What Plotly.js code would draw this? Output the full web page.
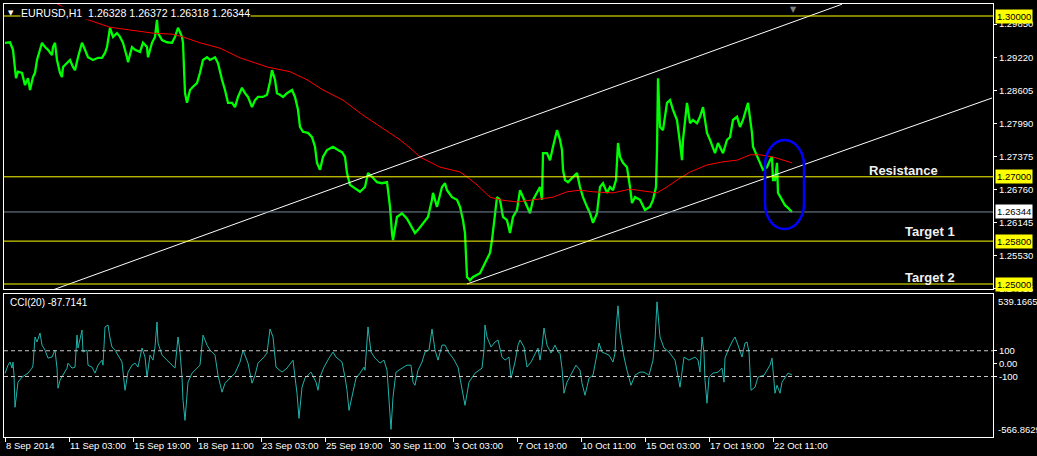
<!DOCTYPE html>
<html>
<head>
<meta charset="utf-8">
<script src="https://cdn.plot.ly/plotly-3.0.1.min.js"></script>
<style>
  html, body { margin: 0; padding: 0; background: #000; }
  #chart { width: 1037px; height: 456px; }
</style>
</head>
<body>
<div id="chart"></div>
<script>
// ---------------- DATA ----------------
const symbolTitle = 'EURUSD,H1\u00a0\u00a01.26328 1.26372 1.26318 1.26344';
const cciTitle = 'CCI(20) -87.7141';

// bar index (H1 bars) and close price
const priceBars = [
  0,5,8,10,11,13,17,20,23,25,
  28,30,32,35,37,40,43,47,48,50,
  52,55,57,58,62,65,68,70,73,77,
  80,83,88,93,97,100,102,105,108,112,
  115,118,122,123,127,130,135,138,142,143,
  147,150,152,153,157,162,167,170,173,177,
  178,179,180,182,185,188,192,195,198,202,
  205,210,213,217,220,223,227,230,233,237,
  240,243,247,250,253,258,262,265,267,270,
  272,275,278,282,287,290,293,295,298,303,
  307,310,312,315,318,322,328,333,337,340,
  342,345,350,355,360,363,367,372,377,382,
  383,385,387,388,392,397,402,407,410,413,
  418,423,427,428,432,437,440,442,447,452,
  455,458,460,461,462,465,468,475,480,485,
  487,490,492,495,498,502,505,508,512,515,
  518,522,525,528,532,535,537,538,542,545,
  548,552,555,557,558,560,563,568,572,575,
  578,582,585,588,592,595,598,602,605,608,
  611,613,615,618,622,625,627,630,635,640,
  645,648,651,652,653,655,658,662,665,668,
  672,675,677,678,682,685,688,692,695,698,
  702,705,710,713,718,722,725,728,732,735,
  738,743,745,747,748,752,755,758,762,765,
  767,768,770,772,773,777,780,783,787
];
const priceClose = [
  1.2950,1.2951,1.2937,1.2905,1.2884,1.2896,1.2894,1.2871,1.2884,1.2862,
  1.2886,1.2894,1.2918,1.2937,1.2950,1.2942,1.2937,1.2927,1.2942,1.2950,
  1.2918,1.2894,1.2886,1.2905,1.2912,1.2918,1.2905,1.2899,1.2923,1.2950,
  1.2937,1.2923,1.2918,1.2922,1.2922,1.2931,1.2942,1.2978,1.2961,1.2968,
  1.2961,1.2950,1.2923,1.2914,1.2942,1.2937,1.2933,1.2950,1.2942,1.2923,
  1.2950,1.2961,1.2993,1.2968,1.2955,1.2951,1.2950,1.2961,1.2978,1.2961,
  1.2950,1.2899,1.2856,1.2838,1.2862,1.2868,1.2875,1.2894,1.2918,1.2923,
  1.2918,1.2923,1.2912,1.2881,1.2862,1.2838,1.2838,1.2830,1.2849,1.2866,
  1.2856,1.2849,1.2830,1.2843,1.2849,1.2849,1.2853,1.2877,1.2899,1.2881,
  1.2856,1.2853,1.2849,1.2856,1.2862,1.2849,1.2825,1.2793,1.2784,1.2782,
  1.2774,1.2756,1.2726,1.2713,1.2737,1.2750,1.2756,1.2750,1.2746,1.2737,
  1.2707,1.2685,1.2679,1.2672,1.2681,1.2707,1.2700,1.2690,1.2688,1.2690,
  1.2675,1.2644,1.2595,1.2582,1.2625,1.2632,1.2622,1.2606,1.2595,1.2601,
  1.2614,1.2625,1.2657,1.2670,1.2644,1.2681,1.2688,1.2675,1.2662,1.2657,
  1.2644,1.2619,1.2595,1.2545,1.2513,1.2507,1.2513,1.2520,1.2539,1.2558,
  1.2582,1.2625,1.2662,1.2657,1.2625,1.2619,1.2595,1.2625,1.2638,1.2675,
  1.2662,1.2644,1.2632,1.2657,1.2670,1.2681,1.2657,1.2744,1.2744,1.2731,
  1.2756,1.2787,1.2769,1.2750,1.2713,1.2694,1.2690,1.2700,1.2707,1.2681,
  1.2662,1.2644,1.2632,1.2614,1.2632,1.2681,1.2688,1.2670,1.2681,1.2675,
  1.2694,1.2763,1.2737,1.2726,1.2718,1.2681,1.2651,1.2662,1.2657,1.2638,
  1.2644,1.2657,1.2681,1.2750,1.2884,1.2793,1.2787,1.2838,1.2843,1.2825,
  1.2806,1.2763,1.2731,1.2769,1.2838,1.2800,1.2806,1.2800,1.2812,1.2830,
  1.2782,1.2769,1.2744,1.2763,1.2744,1.2769,1.2774,1.2806,1.2812,1.2793,
  1.2806,1.2838,1.2812,1.2782,1.2756,1.2737,1.2726,1.2713,1.2718,1.2731,
  1.2737,1.2694,1.2694,1.2726,1.2670,1.2657,1.2647,1.2642,1.26344
];

// moving average (red)
const maBars = [
  50,78,105,148,168,178,195,215,235,262,
  285,302,318,338,358,378,395,405,415,435,
  455,462,472,485,495,512,528,548,562,575,
  588,608,625,642,652,662,672,685,702,718,
  732,745,755,768,778,787
];
const maValues = [
  1.3025,1.2996,1.2979,1.2968,1.2966,1.2961,1.2950,1.2940,1.2922,1.2905,
  1.2896,1.2881,1.2862,1.2843,1.2815,1.2791,1.2769,1.2754,1.2737,1.2718,
  1.2709,1.2700,1.2685,1.2662,1.2657,1.2653,1.2657,1.2662,1.2672,1.2675,
  1.2672,1.2670,1.2677,1.2672,1.2670,1.2681,1.2694,1.2709,1.2722,1.2728,
  1.2731,1.2741,1.2741,1.2737,1.2731,1.2726
];

// trend channel lines (white)
const upperLineBars = [45, 837];
const upperLinePrices = [1.2487, 1.3022];
const lowerLineBars = [462, 987];
const lowerLinePrices = [1.2500, 1.2847];

// horizontal levels
const levelPrices = [1.30000, 1.27000, 1.25800, 1.25000];
const levelLabels = ['1.30000', '1.27000', '1.25800', '1.25000'];
const currentPrice = 1.26344;
const currentLabel = '1.26344';
const noteTexts = ['Resistance', 'Target 1', 'Target 2'];
const noteLevels = [1.27000, 1.25800, 1.25000];

// CCI(20)
const cciBars = [
  0,3,5,7,8,9,10,12,13,17,
  20,23,27,28,30,32,35,37,40,43,
  47,50,52,53,55,58,62,63,67,70,
  72,73,75,77,78,82,83,87,90,93,
  97,98,100,103,105,107,110,113,117,120,
  123,127,130,133,137,140,142,145,148,150,
  152,153,157,162,167,170,173,175,177,178,
  180,182,183,187,192,195,198,202,205,210,
  213,217,220,225,230,235,238,243,247,250,
  253,259,262,265,268,271,277,282,288,290,
  292,294,297,300,306,311,313,315,319,324,
  328,331,337,340,342,344,348,351,355,359,
  360,363,366,370,375,379,382,384,386,388,
  391,397,402,406,408,410,413,417,420,424,
  427,430,433,437,440,444,448,453,457,460,
  464,470,477,479,480,482,486,490,493,497,
  500,504,506,510,513,515,519,522,526,530,
  533,535,537,539,542,546,550,553,555,557,
  559,562,566,571,575,577,580,584,588,591,
  594,597,600,604,608,610,611,613,615,619,
  622,626,630,635,639,644,648,650,652,655,
  659,664,670,673,675,679,684,690,693,695,
  697,699,700,702,704,708,713,717,719,720,
  724,728,730,733,737,740,742,744,746,750,
  753,759,762,765,767,769,770,772,775,777,
  780,783,787
];
const cciValues = [
  -76,-12,12,-35,12,-90,-339,-222,-144,-105,
  -90,-74,-35,-12,207,168,238,144,105,43,
  51,105,-35,-191,-129,-90,-35,4,-35,-27,
  222,121,199,261,90,105,-12,-27,-74,-12,
  27,-12,285,300,199,129,105,66,12,-207,
  -66,-12,4,-27,121,51,-105,66,27,129,
  324,160,66,27,-12,-35,207,90,-105,-285,
  -441,-269,-144,-74,-35,-12,222,144,105,66,
  -90,-222,-152,-113,-74,12,105,4,-152,-90,
  4,51,82,269,207,-27,-66,-35,27,-105,
  -230,-425,-183,-113,-66,-144,-207,-105,-27,43,
  90,51,12,-105,-207,-363,-207,-113,-74,-27,
  -51,285,90,43,4,27,-51,-285,-511,-261,
  -66,-35,-12,-12,-144,-168,-51,12,90,105,
  269,105,27,144,144,82,43,-27,-183,-324,
  -144,-74,-35,105,300,207,129,168,183,51,
  27,51,-113,12,144,183,129,-27,12,82,
  121,27,129,277,144,82,144,90,82,-35,
  -230,-144,-90,-12,-51,-152,-246,-113,-90,43,
  160,90,82,66,12,82,261,449,238,51,
  -51,-168,-90,-66,-66,-90,27,183,480,207,
  121,90,27,-105,-183,51,27,51,27,-66,
  207,82,-129,-308,-105,-74,-66,-35,-144,43,
  121,183,207,144,51,160,168,90,-207,-183,
  -105,-90,-51,-12,43,-105,-230,-168,-230,-144,
  -105,-74,-88
];
const cciLevels = [100, -100];
const cciTickVals = [100, 0, -100];
const cciTickText = ['100', '0.00', '-100'];
const cciMax = 539.1665, cciMaxLabel = '539.1665';
const cciMin = -566.8629, cciMinLabel = '-566.8629';

// axis ticks
const priceTickVals = [1.29850, 1.29220, 1.28605, 1.27990, 1.27375, 1.26760, 1.26145, 1.25530, 1.24915];
const priceTickText = ['1.29850', '1.29220', '1.28605', '1.27990', '1.27375', '1.26760', '1.26145', '1.25530', '1.24915'];
const xTickBars = [0, 64, 128, 192, 256, 320, 384, 448, 512, 576, 640, 704, 768];
const xTickLabels = ['8 Sep 2014', '11 Sep 03:00', '15 Sep 19:00', '18 Sep 11:00', '23 Sep 03:00',
  '25 Sep 19:00', '30 Sep 11:00', '3 Oct 03:00', '7 Oct 19:00', '10 Oct 11:00',
  '15 Oct 03:00', '17 Oct 19:00', '22 Oct 11:00'];

// highlighted area (blue rounded outline) in bar / price units
const highlight = { left: 760, right: 799, top: 1.27686, bottom: 1.26025, rx: 19.5, ry: 0.0047 };

// ---------------- STYLE ----------------
const FONT = 'Liberation Sans, Arial, sans-serif';
const fs = 9.5;
const white = '#ffffff';

const traces = [
  { x: priceBars, y: priceClose, type: 'scatter', mode: 'lines',
    line: { color: '#00ff00', width: 2.3 }, xaxis: 'x', yaxis: 'y', hoverinfo: 'skip' },
  { x: maBars, y: maValues, type: 'scatter', mode: 'lines',
    line: { color: '#ff0000', width: 1 }, xaxis: 'x', yaxis: 'y', hoverinfo: 'skip' },
  { x: upperLineBars, y: upperLinePrices, type: 'scatter', mode: 'lines',
    line: { color: white, width: 1 }, xaxis: 'x', yaxis: 'y', hoverinfo: 'skip' },
  { x: lowerLineBars, y: lowerLinePrices, type: 'scatter', mode: 'lines',
    line: { color: white, width: 1 }, xaxis: 'x', yaxis: 'y', hoverinfo: 'skip' },
  { x: cciBars, y: cciValues, type: 'scatter', mode: 'lines',
    line: { color: '#20b2aa', width: 1 }, xaxis: 'x2', yaxis: 'y2', hoverinfo: 'skip' }
];

const shapes = [];
levelPrices.forEach(p => shapes.push({ type: 'line', xref: 'paper', x0: 0, x1: 1, yref: 'y', y0: p, y1: p,
  line: { color: '#ffff00', width: 1 } }));
shapes.push({ type: 'line', xref: 'paper', x0: 0, x1: 1, yref: 'y', y0: currentPrice, y1: currentPrice,
  line: { color: '#778899', width: 1 } });
cciLevels.forEach(v => shapes.push({ type: 'line', xref: 'paper', x0: 0, x1: 1, yref: 'y2', y0: v, y1: v,
  line: { color: '#c8c8c8', width: 1, dash: '4px,3px' } }));

(function () {
  const h = highlight, k = 0.5523;
  const cx = (h.left + h.right) / 2;
  const kx = k * h.rx, ky = k * h.ry;
  const t1 = h.top - h.ry, b1 = h.bottom + h.ry;
  const path = `M${h.left},${t1} C${h.left},${t1 + ky} ${cx - kx},${h.top} ${cx},${h.top} ` +
    `C${cx + kx},${h.top} ${h.right},${t1 + ky} ${h.right},${t1} L${h.right},${b1} ` +
    `C${h.right},${b1 - ky} ${cx + kx},${h.bottom} ${cx},${h.bottom} ` +
    `C${cx - kx},${h.bottom} ${h.left},${b1 - ky} ${h.left},${b1} Z`;
  shapes.push({ type: 'path', xref: 'x', yref: 'y', path: path, line: { color: '#0000ff', width: 2.5 } });
})();

const annotations = [];
// chart title
annotations.push({ xref: 'paper', yref: 'paper', x: (20 - 4) / 989, y: (437 - 13) / 433, xanchor: 'left', yanchor: 'middle',
  text: symbolTitle, showarrow: false, bgcolor: '#000000', borderpad: 0, font: { family: FONT, size: 10.6, color: white } });
annotations.push({ xref: 'paper', yref: 'paper', x: (11 - 4) / 989, y: (437 - 13) / 433, xanchor: 'center', yanchor: 'middle',
  text: '\u25BC', showarrow: false, font: { family: 'DejaVu Sans', size: 7, color: white } });
annotations.push({ xref: 'x', yref: 'paper', x: 788, y: 1, xanchor: 'center', yanchor: 'top', yshift: 1,
  text: '\u25BC', showarrow: false, font: { family: 'DejaVu Sans', size: 8, color: '#808080' } });
annotations.push({ xref: 'paper', yref: 'paper', x: (8 - 4) / 989, y: (437 - 302) / 433, xanchor: 'left', yanchor: 'middle',
  text: cciTitle, showarrow: false, font: { family: FONT, size: 10, color: white } });

// notes
const noteX = [898, 925, 925];
const noteShift = [6, 10, 7];
noteTexts.forEach((t, i) => annotations.push({ xref: 'x', yref: 'y', x: noteX[i], y: noteLevels[i], yshift: noteShift[i],
  xanchor: 'center', yanchor: 'middle', text: '<b>' + t + '</b>', showarrow: false,
  font: { family: FONT, size: 13, color: '#f0f0f0' } }));

// price labels on the right
levelPrices.forEach((p, i) => annotations.push({ xref: 'paper', yref: 'y', x: 1, y: p, xanchor: 'left', yanchor: 'middle',
  xshift: 2, text: levelLabels[i], showarrow: false, bgcolor: '#ffff00', borderpad: 1,
  font: { family: FONT, size: fs, color: '#000000' } }));
annotations.push({ xref: 'paper', yref: 'y', x: 1, y: currentPrice, xanchor: 'left', yanchor: 'middle',
  xshift: 2, text: currentLabel, showarrow: false, bgcolor: '#ffffff', borderpad: 1,
  font: { family: FONT, size: fs, color: '#000000' } });
annotations.push({ xref: 'paper', yref: 'y2', x: 1, y: cciMax, xanchor: 'left', yanchor: 'top', xshift: 3,
  text: cciMaxLabel, showarrow: false, font: { family: FONT, size: fs, color: white } });
annotations.push({ xref: 'paper', yref: 'y2', x: 1, y: cciMin, xanchor: 'left', yanchor: 'bottom', xshift: 3,
  text: cciMinLabel, showarrow: false, font: { family: FONT, size: fs, color: white } });

const tickFont = { family: FONT, size: fs, color: white };
const layout = {
  width: 1037, height: 456,
  margin: { l: 4, r: 44, t: 4, b: 19, pad: 0 },
  paper_bgcolor: '#000000', plot_bgcolor: '#000000',
  showlegend: false,
  xaxis: { domain: [0, 1], anchor: 'y', range: [-1, 988], showgrid: false, zeroline: false,
    showline: true, mirror: true, linecolor: white, linewidth: 1, showticklabels: false, ticks: '' },
  yaxis: { domain: [0.3418, 1], anchor: 'x', side: 'right', range: [1.249067, 1.302239],
    showgrid: false, zeroline: false, showline: true, mirror: true, linecolor: white, linewidth: 1,
    ticks: 'outside', ticklen: 3, tickcolor: white, tickvals: priceTickVals, ticktext: priceTickText,
    tickfont: tickFont },
  xaxis2: { domain: [0, 1], anchor: 'y2', range: [-1, 988], showgrid: false, zeroline: false,
    showline: true, mirror: true, linecolor: white, linewidth: 1,
    ticks: 'outside', ticklen: 4, tickcolor: white, tickvals: xTickBars, ticktext: xTickLabels,
    ticklabelposition: 'outside right', tickfont: tickFont, tickangle: 0 },
  yaxis2: { domain: [0, 0.330], anchor: 'x2', side: 'right', range: [-570, 540],
    showgrid: false, zeroline: false, showline: true, mirror: true, linecolor: white, linewidth: 1,
    ticks: 'outside', ticklen: 3, tickcolor: white, tickvals: cciTickVals, ticktext: cciTickText,
    tickfont: tickFont },
  shapes: shapes,
  annotations: annotations
};

Plotly.newPlot('chart', traces, layout, { staticPlot: true, displayModeBar: false });
</script>
</body>
</html>
